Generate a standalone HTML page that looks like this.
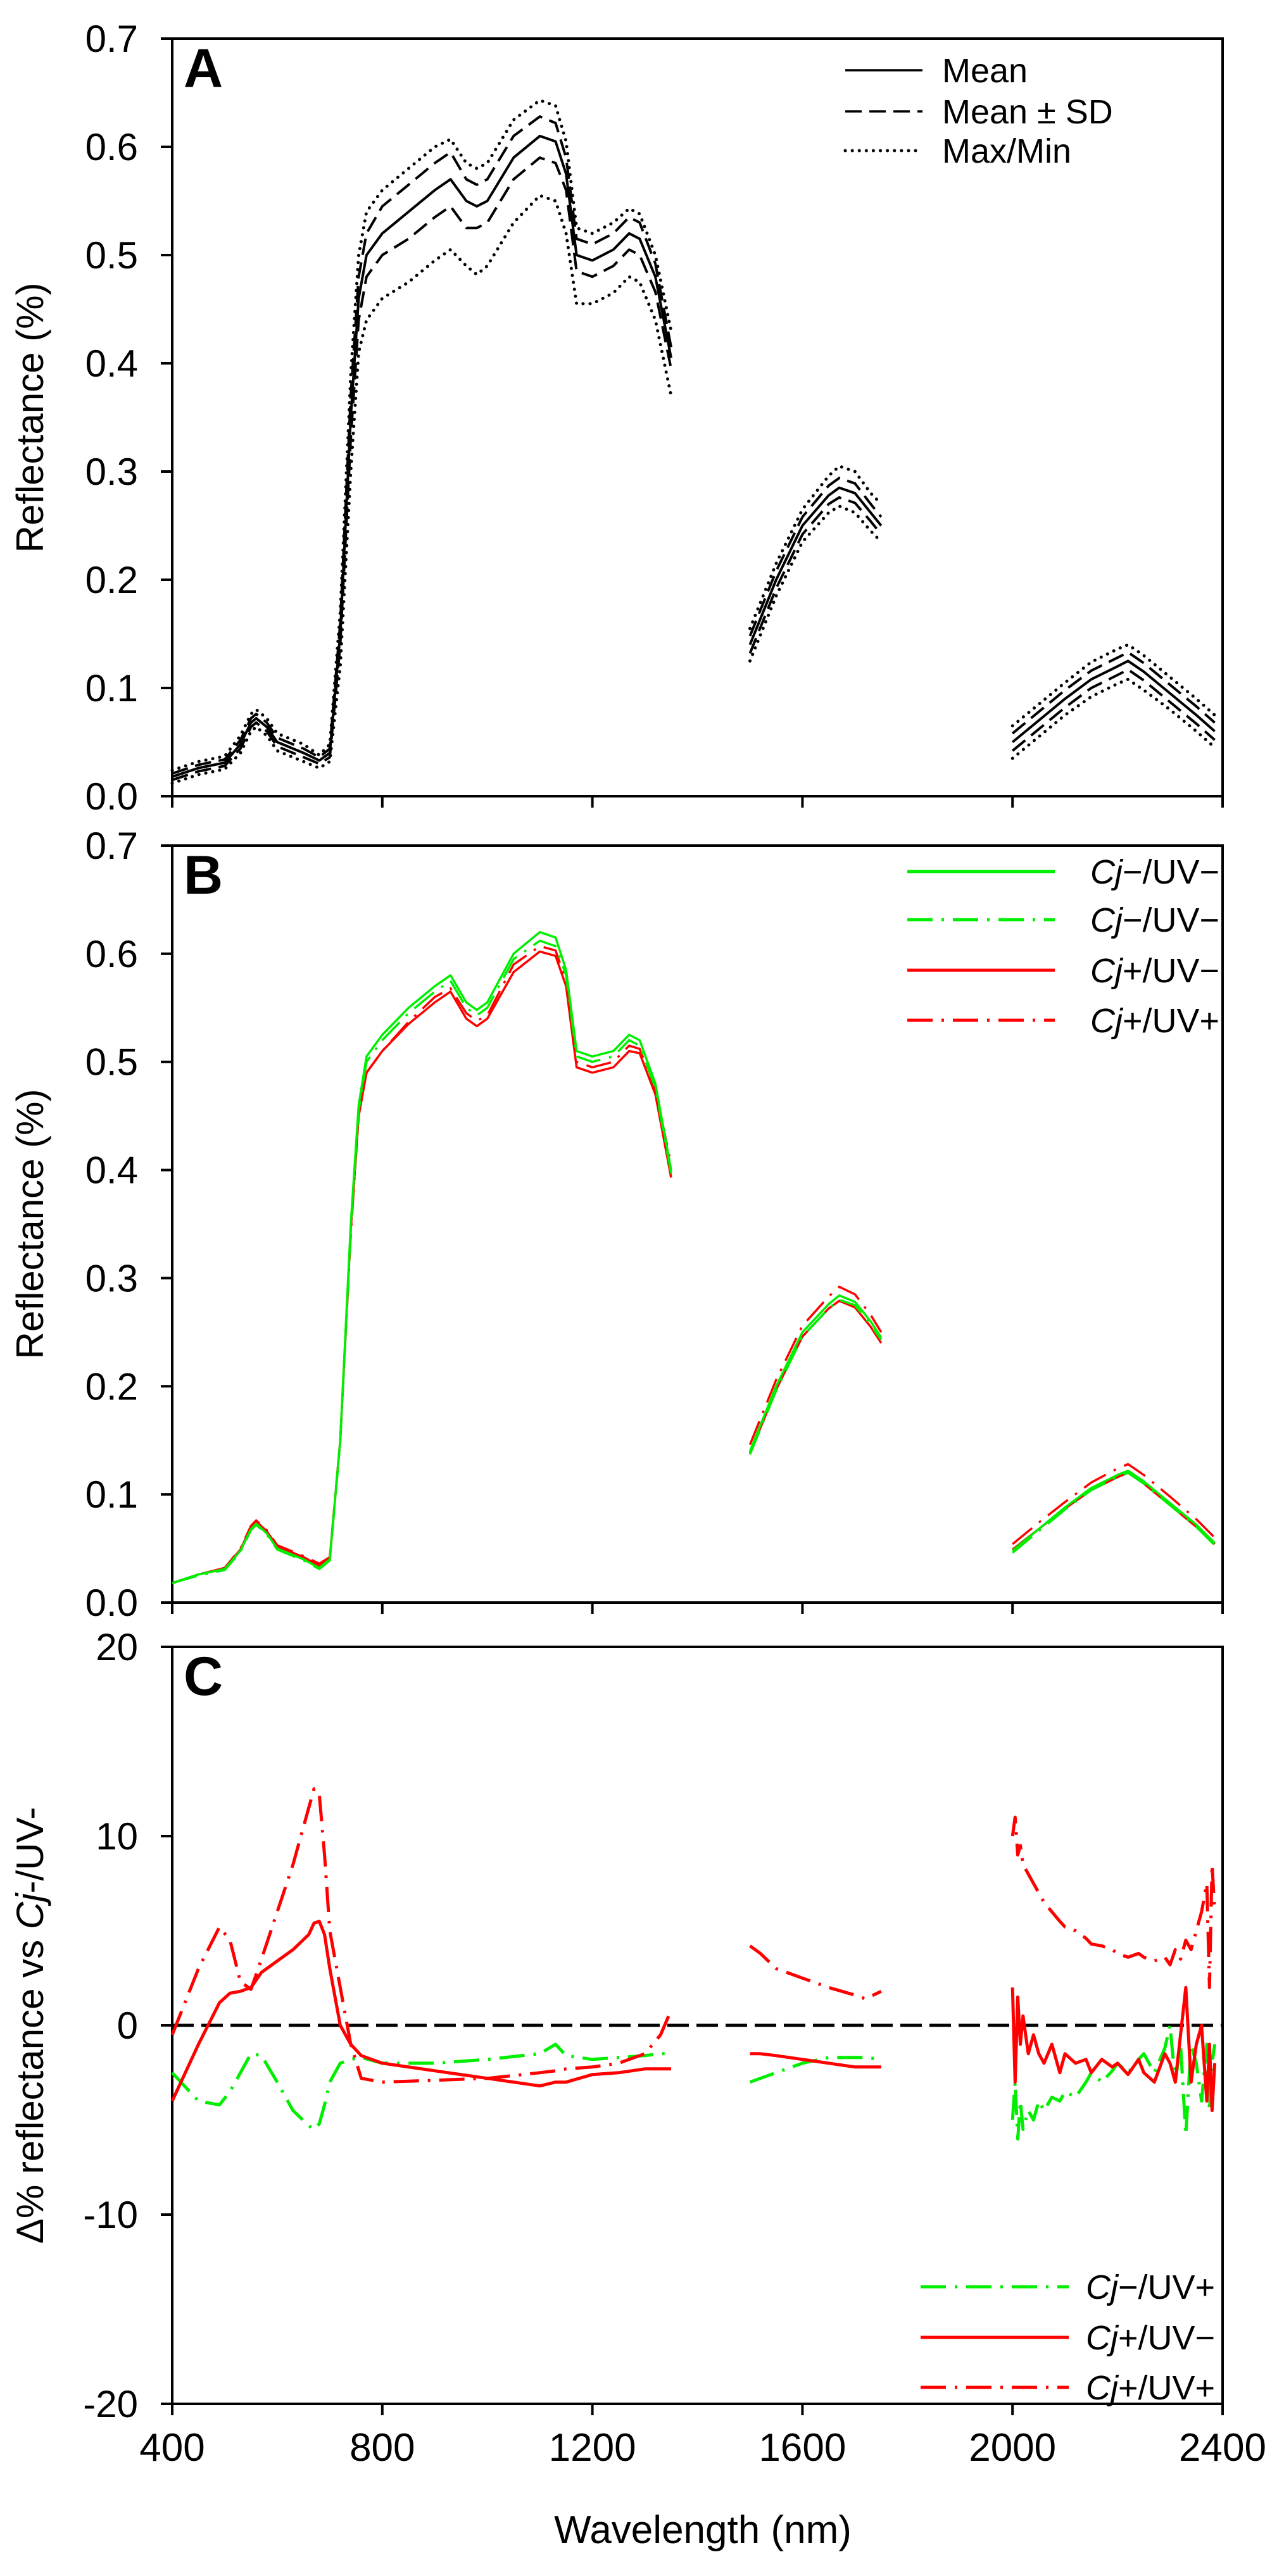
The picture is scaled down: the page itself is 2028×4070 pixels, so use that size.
<!DOCTYPE html>
<html><head><meta charset="utf-8"><style>
html,body{margin:0;padding:0;background:#fff;}
svg{display:block;font-family:"Liberation Sans",Arial,sans-serif;}
</style></head><body>
<svg id="chart" width="2028" height="4070" viewBox="0 0 2028 4070" xmlns="http://www.w3.org/2000/svg">
<rect width="2028" height="4070" fill="#fff"/>
<g id="g"></g>
</svg>
<script>
// ---- data ----
const seg1WL=[400,450,500,530,550,560,580,600,650,680,700,720,740,755,770,800,850,900,930,960,980,1000,1050,1100,1130,1150,1170,1200,1240,1270,1290,1320,1350];
const seg2WL=[1500,1550,1600,1650,1670,1700,1730,1750];
const seg3WL=[2000,2050,2100,2150,2200,2220,2250,2300,2350,2385];
// Panel A
const aMean=[.018,.026,.031,.048,.068,.072,.064,.05,.04,.033,.04,.15,.35,.46,.50,.52,.54,.56,.57,.55,.545,.55,.59,.61,.605,.575,.50,.495,.505,.52,.515,.48,.405,
 .14,.2,.25,.278,.285,.28,.262,.25,
 .05,.07,.09,.108,.12,.125,.115,.095,.075,.06];
const aSDup=[.021,.029,.034,.052,.072,.076,.068,.054,.044,.036,.044,.16,.37,.48,.52,.545,.565,.585,.595,.57,.565,.57,.61,.628,.622,.59,.515,.51,.52,.535,.53,.492,.415,
 .148,.208,.258,.287,.294,.289,.27,.258,
 .058,.078,.098,.116,.128,.133,.123,.103,.083,.068];
const aSDlo=[.015,.023,.028,.044,.064,.068,.06,.046,.036,.03,.036,.14,.33,.44,.48,.50,.515,.535,.545,.525,.525,.53,.57,.59,.585,.56,.485,.48,.49,.505,.50,.466,.395,
 .132,.192,.242,.27,.276,.271,.254,.242,
 .042,.062,.082,.1,.112,.117,.107,.087,.067,.052];
const aMax=[.024,.032,.037,.056,.076,.08,.072,.058,.048,.038,.048,.17,.39,.50,.54,.56,.58,.60,.607,.585,.58,.585,.625,.643,.638,.605,.525,.52,.53,.543,.538,.5,.43,
 .155,.215,.265,.296,.305,.3,.28,.27,
 .065,.085,.105,.124,.136,.14,.13,.11,.09,.075];
const aMin=[.012,.02,.025,.04,.06,.064,.056,.042,.032,.026,.032,.12,.30,.41,.44,.46,.475,.495,.505,.49,.482,.49,.53,.555,.55,.52,.455,.455,.465,.48,.475,.44,.37,
 .125,.185,.235,.262,.268,.262,.245,.235,
 .035,.055,.075,.092,.104,.108,.098,.08,.06,.045];
// Panel B
const bCtrl=[.018,.026,.031,.048,.068,.073,.064,.05,.04,.032,.04,.15,.35,.46,.505,.525,.55,.57,.58,.555,.548,.555,.60,.62,.615,.585,.51,.505,.51,.525,.52,.48,.4,
 .14,.2,.25,.276,.284,.278,.26,.245,
 .048,.068,.088,.106,.118,.122,.112,.092,.072,.055];
const bCjUV=[.018,.025,.030,.047,.067,.072,.063,.049,.039,.031,.039,.148,.345,.455,.50,.52,.545,.565,.575,.55,.543,.55,.595,.612,.607,.58,.505,.5,.505,.52,.515,.476,.397,
 .137,.196,.246,.272,.28,.275,.257,.243,
 .046,.066,.086,.104,.116,.12,.11,.09,.07,.053];
const bCjpUVm=[.018,.026,.032,.049,.07,.075,.066,.052,.042,.034,.041,.15,.345,.45,.49,.51,.535,.555,.565,.54,.533,.54,.583,.602,.598,.57,.495,.49,.495,.51,.508,.47,.393,
 .138,.197,.246,.272,.279,.273,.255,.24,
 .049,.068,.087,.104,.116,.12,.11,.09,.07,.054];
const bCjpUVp=[.018,.026,.032,.05,.071,.076,.067,.053,.043,.036,.042,.15,.34,.45,.49,.51,.537,.56,.568,.545,.538,.543,.59,.607,.603,.575,.5,.495,.5,.515,.512,.475,.405,
 .146,.206,.256,.283,.292,.285,.266,.25,
 .054,.074,.093,.111,.124,.128,.118,.098,.077,.06];
// Panel C
const cWL1=[400,450,490,510,530,550,570,600,630,660,670,680,690,700,720,740,760,800,900,1000,1100,1130,1150,1200,1250,1300,1330,1350];
const cWL2=[1500,1520,1550,1600,1650,1700,1720,1750];
const cWL3=[2000,2005,2010,2015,2020,2030,2040,2050,2060,2075,2090,2100,2120,2140,2150,2170,2190,2200,2220,2240,2250,2270,2290,2300,2310,2320,2330,2340,2350,2360,2370,2375,2380,2385];
const cGreenUVp=[-2.5,-4,-4.2,-3.5,-2.5,-1.5,-1.6,-3,-4.5,-5.3,-5.5,-5.2,-4.2,-3,-2,-1.8,-1.7,-2,-2,-1.8,-1.5,-1,-1.6,-1.8,-1.7,-1.6,-1.5,-1.5,
 -3,-2.8,-2.5,-2,-1.7,-1.7,-1.7,-1.8,
 -5,-3,-6,-4,-5.5,-4.5,-5,-4,-4.5,-3.8,-4,-3.5,-3.8,-3,-2.5,-3,-2.4,-2,-2.5,-1.8,-1.5,-2.5,-1.2,0,-3,-1,-5.8,-1,-2,-4,-1,-4.5,-2,-1];
const cRedUVm=[-4,-1,1.2,1.7,1.8,2,2.8,3.4,4,4.8,5.4,5.5,4.8,3,0,-1,-1.6,-2,-2.4,-2.8,-3.2,-3,-3,-2.6,-2.5,-2.3,-2.3,-2.3,
 -1.5,-1.5,-1.6,-1.8,-2,-2.2,-2.2,-2.2,
 2,-3,1.5,-1,0.5,-1.5,-0.5,-1.5,-2,-1,-2.5,-1.5,-2,-1.8,-2.5,-1.8,-2.2,-2,-2.6,-1.8,-2.5,-3,-1.5,-2,-3,-0.5,2,-3,-1,0,-4,-1,-4.5,-2];
const cRedUVp=[-0.5,3,5.2,4.5,2.3,1.9,3.5,6,8.5,11.5,12.5,12.2,9,5,2,-1,-2.8,-3,-2.9,-2.8,-2.5,-2.4,-2.3,-2.2,-2,-1.5,-0.5,0.8,
 4.2,3.8,3,2.5,2,1.6,1.4,1.8,
 10,11,9,9.5,8.5,8,7.5,7,6.5,6,5.5,5.2,5,4.6,4.3,4.2,4,3.8,3.6,3.8,3.6,3.4,3.6,3.2,4,3.5,4.5,4,5,6,7.5,2,8.5,6];
const yTicksA=["0.0","0.1","0.2","0.3","0.4","0.5","0.6","0.7"];
const yTicksC=["-20","-10","0","10","20"];
const xTicks=["400","800","1200","1600","2000","2400"];

// ---- layout ----
const L=272,R=1931;
const panels={A:{top:61,bot:1258,min:0,max:0.7},B:{top:1336,bot:2532,min:0,max:0.7},C:{top:2602,bot:3798,min:-20,max:20}};
const xs=w=>L+(w-400)/2000*(R-L);
const ys=(p,v)=>p.bot-(v-p.min)/(p.max-p.min)*(p.bot-p.top);
const NS="http://www.w3.org/2000/svg";
const G=document.getElementById('g');
function mk(tag,attrs,parent){const e=document.createElementNS(NS,tag);for(const k in attrs)e.setAttribute(k,attrs[k]);(parent||G).appendChild(e);return e;}
const allWL=[seg1WL,seg2WL,seg3WL];
const allCWL=[cWL1,cWL2,cWL3];
function drawSeries(p,wlGroups,vals,style,name){
  let d='',i=0;
  wlGroups.forEach(g=>{g.forEach((w,j)=>{d+=(j?'L':'M')+xs(w).toFixed(1)+' '+ys(p,vals[i]).toFixed(1);i++;});});
  const e=mk('path',Object.assign({d:d,fill:'none','stroke-linejoin':'round'},style));
  
  
}
function frame(p,key,ticks){
  const fr=mk('rect',{x:L,y:p.top,width:R-L,height:p.bot-p.top,fill:'none',stroke:'#000','stroke-width':4});
  
  
  ticks.forEach(t=>{
    const v=parseFloat(t),y=ys(p,v);
    const tk=mk('line',{x1:L-18,x2:L,y1:y,y2:y,stroke:'#000','stroke-width':4});
    
    
    const tx=mk('text',{x:218,y:y+21,'text-anchor':'end','font-size':60});
    tx.textContent=t;
    
    
  });
  xTicks.forEach(t=>{
    const x=xs(+t);
    const tk=mk('line',{x1:x,x2:x,y1:p.bot,y2:p.bot+18,stroke:'#000','stroke-width':4});
    
    
  });
  const lt=mk('text',{x:290,y:p.top+76,'font-size':86,'font-weight':'bold'});
  lt.textContent=key;
  
  
}
const A=panels.A,B=panels.B,C=panels.C;
frame(A,'A',yTicksA);
frame(B,'B',yTicksA);
frame(C,'C',yTicksC);
const dotted={stroke:'#000','stroke-width':5,'stroke-dasharray':'0.1 11','stroke-linecap':'round'};
const dashed={stroke:'#000','stroke-width':4,'stroke-dasharray':'26 12'};
const solid={stroke:'#000','stroke-width':4};
drawSeries(A,allWL,aMax,dotted,'max-line');
drawSeries(A,allWL,aMin,dotted,'min-line');
drawSeries(A,allWL,aSDup,dashed,'mean-plus-sd-line');
drawSeries(A,allWL,aSDlo,dashed,'mean-minus-sd-line');
drawSeries(A,allWL,aMean,solid,'mean-line');
const GR='#00ee00',RD='#ff0000',DD='40 14 4 14';
drawSeries(B,allWL,bCjpUVp,{stroke:RD,'stroke-width':3.5,'stroke-dasharray':DD},'cj-plus-uv-plus-line');
drawSeries(B,allWL,bCjpUVm,{stroke:RD,'stroke-width':3.5},'cj-plus-uv-minus-line');
drawSeries(B,allWL,bCjUV,{stroke:GR,'stroke-width':3.5,'stroke-dasharray':DD},'cj-minus-uv-plus-line');
drawSeries(B,allWL,bCtrl,{stroke:GR,'stroke-width':3.5},'cj-minus-uv-minus-line');
const z=mk('line',{x1:L,x2:R,y1:ys(C,0),y2:ys(C,0),stroke:'#000','stroke-width':5,'stroke-dasharray':'34 12'});


drawSeries(C,allCWL,cGreenUVp,{stroke:GR,'stroke-width':5,'stroke-dasharray':DD},'delta-cj-minus-uv-plus');
drawSeries(C,allCWL,cRedUVm,{stroke:RD,'stroke-width':5},'delta-cj-plus-uv-minus');
drawSeries(C,allCWL,cRedUVp,{stroke:RD,'stroke-width':5,'stroke-dasharray':DD},'delta-cj-plus-uv-plus');
xTicks.forEach(t=>{
  const tx=mk('text',{x:xs(+t),y:3888,'text-anchor':'middle','font-size':62});
  tx.textContent=t;
  
  
});
</script>
<svg style="position:absolute;left:0;top:0" width="2028" height="4070">
<g font-family="Liberation Sans, Arial, sans-serif">
<text x="1110" y="4018" text-anchor="middle" font-size="62">Wavelength (nm)</text>
<text transform="translate(68,660) rotate(-90)" text-anchor="middle" font-size="60">Reflectance (%)</text>
<text transform="translate(68,1934) rotate(-90)" text-anchor="middle" font-size="60">Reflectance (%)</text>
<text transform="translate(68,3200) rotate(-90)" text-anchor="middle" font-size="60">Δ% reflectance vs <tspan font-style="italic">Cj</tspan>-/UV-</text>
<g>
<line x1="1335" x2="1457" y1="111" y2="111" stroke="#000" stroke-width="3.5"/>
<text x="1488" y="130" font-size="54">Mean</text>
<line x1="1335" x2="1457" y1="176" y2="176" stroke="#000" stroke-width="3.5" stroke-dasharray="26 12"/>
<text x="1488" y="195" font-size="54">Mean ± SD</text>
<line x1="1335" x2="1457" y1="238" y2="238" stroke="#000" stroke-width="5" stroke-dasharray="0.1 11" stroke-linecap="round"/>
<text x="1488" y="257" font-size="54">Max/Min</text>
</g>
<g font-size="54">
<line x1="1433" x2="1666" y1="1377" y2="1377" stroke="#00ee00" stroke-width="5"/>
<text x="1722" y="1396"><tspan font-style="italic">Cj</tspan>−/UV−</text>
<line x1="1433" x2="1666" y1="1453" y2="1453" stroke="#00ee00" stroke-width="5" stroke-dasharray="40 14 4 14"/>
<text x="1722" y="1472"><tspan font-style="italic">Cj</tspan>−/UV−</text>
<line x1="1433" x2="1666" y1="1533" y2="1533" stroke="#ff0000" stroke-width="5"/>
<text x="1722" y="1552"><tspan font-style="italic">Cj</tspan>+/UV−</text>
<line x1="1433" x2="1666" y1="1612" y2="1612" stroke="#ff0000" stroke-width="5" stroke-dasharray="40 14 4 14"/>
<text x="1722" y="1631"><tspan font-style="italic">Cj</tspan>+/UV+</text>
</g>
<g font-size="54">
<line x1="1454" x2="1688" y1="3613" y2="3613" stroke="#00ee00" stroke-width="5" stroke-dasharray="40 14 4 14"/>
<text x="1715" y="3632"><tspan font-style="italic">Cj</tspan>−/UV+</text>
<line x1="1454" x2="1688" y1="3693" y2="3693" stroke="#ff0000" stroke-width="5"/>
<text x="1715" y="3712"><tspan font-style="italic">Cj</tspan>+/UV−</text>
<line x1="1454" x2="1688" y1="3772" y2="3772" stroke="#ff0000" stroke-width="5" stroke-dasharray="40 14 4 14"/>
<text x="1715" y="3791"><tspan font-style="italic">Cj</tspan>+/UV+</text>
</g>
</g>
</svg>
</body></html>
